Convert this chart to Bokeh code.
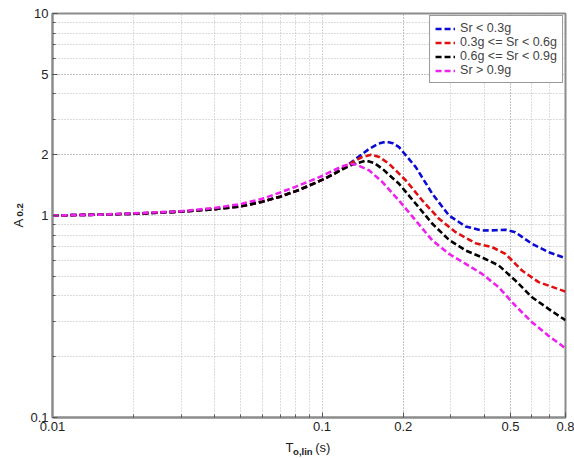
from bokeh.plotting import figure
from bokeh.models import FixedTicker, Label, Legend, LegendItem, Range1d, CustomJSTickFormatter
from bokeh.embed import file_html
from bokeh.resources import INLINE

# ---- data ----
x_tick_values = [0.01, 0.1, 0.2, 0.5, 0.8]
x_minor_values = [0.02, 0.03, 0.04, 0.05, 0.06, 0.07, 0.08, 0.09,
                  0.2, 0.3, 0.4, 0.5, 0.6, 0.7, 0.8]
y_tick_values = [0.1, 1, 2, 5, 10]
y_minor_values = [0.2, 0.3, 0.4, 0.5, 0.6, 0.7, 0.8, 0.9,
                  2, 3, 4, 5, 6, 7, 8, 9]

blue_x = [0.01, 0.015, 0.02, 0.03, 0.04, 0.05, 0.06, 0.07, 0.08, 0.09, 0.1, 0.11, 0.12,
          0.1337, 0.1497, 0.162, 0.1726, 0.183, 0.193, 0.2227, 0.2566, 0.2957, 0.341,
          0.3926, 0.44, 0.479, 0.521, 0.601, 0.692, 0.8]
blue_y = [1.0, 1.01, 1.02, 1.045, 1.075, 1.11, 1.17, 1.24, 1.32, 1.41, 1.50, 1.60, 1.72,
          1.91, 2.14, 2.27, 2.32, 2.28, 2.18, 1.735, 1.28, 1.0, 0.882,
          0.843, 0.845, 0.85, 0.827, 0.724, 0.659, 0.615]

red_x = [0.01, 0.015, 0.02, 0.03, 0.04, 0.05, 0.06, 0.07, 0.08, 0.09, 0.1, 0.11, 0.12,
         0.13, 0.14, 0.152, 0.163, 0.1775, 0.2046, 0.2356, 0.2715, 0.313, 0.371,
         0.4275, 0.479, 0.5516, 0.636, 0.8]
red_y = [1.0, 1.01, 1.02, 1.045, 1.075, 1.11, 1.17, 1.24, 1.32, 1.41, 1.50, 1.60, 1.71,
         1.84, 1.94, 2.0, 1.95, 1.80, 1.49, 1.186, 0.963, 0.827, 0.729,
         0.697, 0.646, 0.534, 0.468, 0.42]

black_x = [0.01, 0.015, 0.02, 0.03, 0.04, 0.05, 0.06, 0.07, 0.08, 0.09, 0.1, 0.11, 0.12,
           0.13, 0.1455, 0.156, 0.1677, 0.193, 0.2227, 0.2566, 0.2957, 0.341,
           0.3926, 0.4524, 0.521, 0.601, 0.692, 0.8]
black_y = [1.0, 1.01, 1.02, 1.045, 1.075, 1.11, 1.17, 1.24, 1.32, 1.41, 1.50, 1.60, 1.70,
           1.79, 1.87, 1.82, 1.70, 1.435, 1.143, 0.91, 0.758, 0.671,
           0.62, 0.566, 0.477, 0.394, 0.345, 0.303]

magenta_x = [0.01, 0.015, 0.02, 0.03, 0.04, 0.05, 0.06, 0.07, 0.08, 0.09, 0.1, 0.11, 0.12,
             0.127, 0.1337, 0.1497, 0.1677, 0.193, 0.2227, 0.2566, 0.2957, 0.341,
             0.3926, 0.4524, 0.521, 0.601, 0.692, 0.8]
magenta_y = [1.0, 1.01, 1.025, 1.05, 1.09, 1.14, 1.21, 1.30, 1.39, 1.48, 1.57, 1.67, 1.76,
             1.80, 1.79, 1.67, 1.46, 1.186, 0.944, 0.752, 0.646, 0.576,
             0.514, 0.441, 0.358, 0.296, 0.254, 0.22]

series_names = ["Sr < 0.3g", "0.3g <= Sr < 0.6g", "0.6g <= Sr < 0.9g", "Sr > 0.9g"]
series_colors = ["#0a0ad2", "#e01010", "#000000", "#ee22ee"]

NB = "\u00a0"
x_title_main = "T" + NB * 6 + "(s)"
x_title_sub = "o,lin"
y_title_main, y_title_sub = "A", "0.2"

FONT = "Liberation Sans"
TXT = "#222222"

p = figure(width=574, height=458, x_axis_type="log", y_axis_type="log",
           x_range=Range1d(0.01, 0.8), y_range=Range1d(0.1, 10),
           output_backend="svg", toolbar_location=None,
           min_border_left=52, min_border_right=9, min_border_top=13, min_border_bottom=41)
p.background_fill_color = "white"
p.border_fill_color = "white"
p.outline_line_color = "#8c8c8c"
p.outline_line_width = 2

for ax, ticks, minors in ((p.xaxis[0], x_tick_values, x_minor_values),
                          (p.yaxis[0], y_tick_values, y_minor_values)):
    ax.ticker = FixedTicker(ticks=ticks, minor_ticks=minors)
    ax.axis_line_color = "#8c8c8c"
    ax.axis_line_width = 2
    ax.major_tick_in = 5
    ax.major_tick_out = 0
    ax.minor_tick_in = 3
    ax.minor_tick_out = 0
    ax.major_tick_line_color = "#555555"
    ax.minor_tick_line_color = "#555555"
    ax.major_label_text_font = FONT
    ax.major_label_text_font_size = "13px"
    ax.major_label_text_color = TXT
    ax.axis_label = None
p.xaxis.major_label_standoff = 4
p.yaxis.major_label_standoff = 4

p.xaxis.formatter = CustomJSTickFormatter(code="return String(Math.round(tick*100)/100);")
p.yaxis.formatter = CustomJSTickFormatter(code="return String(Math.round(tick*10)/10);")

for g in (p.xgrid[0], p.ygrid[0]):
    g.grid_line_color = "#a8a8a8"
    g.grid_line_dash = "1 2"
    g.grid_line_width = 1
    g.minor_grid_line_color = "#b8b8b8"
    g.minor_grid_line_dash = "1 2"
    g.minor_grid_line_width = 1

renderers = []
for xs, ys, c in ((blue_x, blue_y, series_colors[0]), (red_x, red_y, series_colors[1]),
                  (black_x, black_y, series_colors[2]), (magenta_x, magenta_y, series_colors[3])):
    r = p.line(xs, ys, line_color=c, line_width=2.6, line_dash="6 3")
    renderers.append(r)

legend = Legend(items=[LegendItem(label=n, renderers=[r]) for n, r in zip(series_names, renderers)],
                location="top_right")
legend.margin = 2
legend.padding = 5
legend.spacing = 0
legend.label_text_font = FONT
legend.label_text_font_size = "12.5px"
legend.label_height = 13
legend.glyph_height = 13
legend.glyph_width = 20
legend.label_standoff = 5
legend.border_line_color = "#333333"
legend.border_line_width = 1
legend.background_fill_alpha = 1
p.add_layout(legend)

# axis titles with subscripts: labels live in side panels (not clipped),
# positioned with the plot's own data scales just outside the frame
def lab(x, y, text, size, side, bold=False, angle=0.0):
    p.add_layout(Label(x=x, y=y, x_units="data", y_units="data", text=text,
                       text_font=FONT, text_font_size=size,
                       text_font_style="bold" if bold else "normal", text_color=TXT,
                       angle=angle, text_align="left", text_baseline="alphabetic"), side)

lab(0.0732, 0.0711, x_title_main, "13px", "below")
lab(0.0781, 0.0679, x_title_sub, "9.5px", "above", bold=True)
lab(0.00748, 0.872, y_title_main, "13px", "left", angle=1.5708)
lab(0.00756, 0.989, y_title_sub, "9.5px", "left", bold=True, angle=1.5708)

open("out.html", "w").write(file_html(p, INLINE))
